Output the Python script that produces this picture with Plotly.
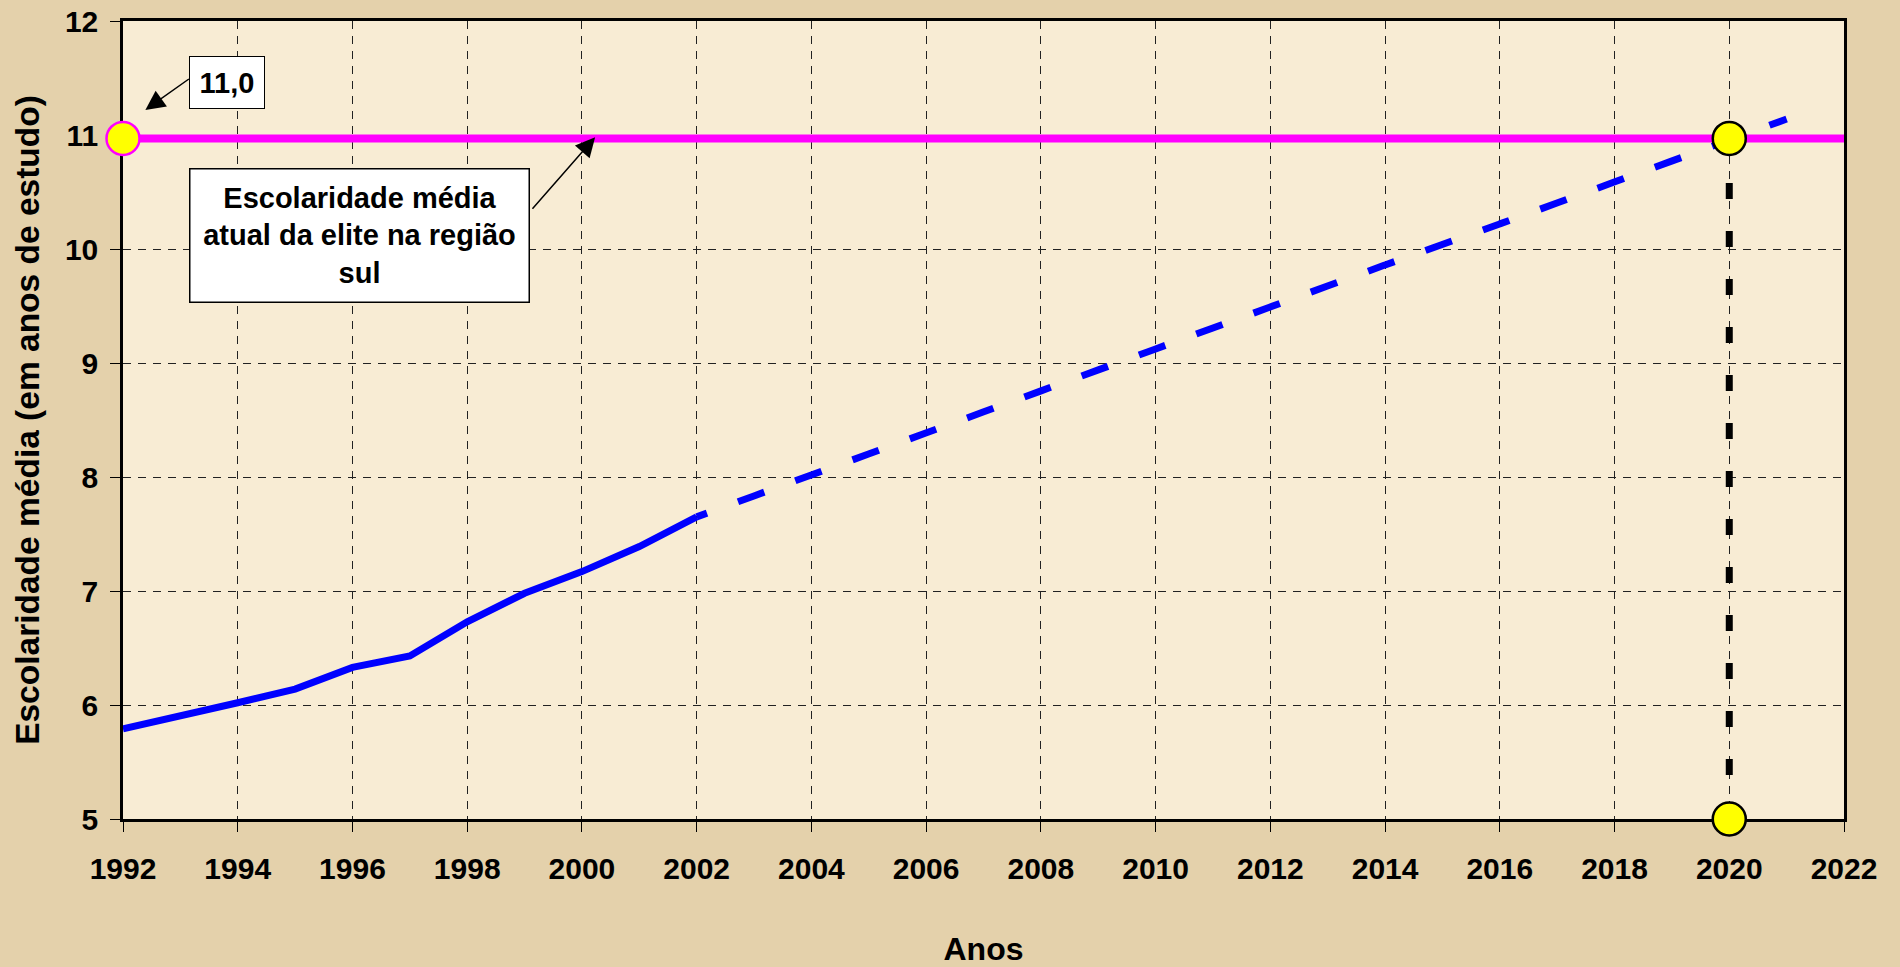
import plotly.graph_objects as go

# ---------------- data ----------------
years_obs = [1992, 1993, 1994, 1995, 1996, 1997, 1998, 1999, 2000, 2001, 2002]
escol_obs = [5.79, 5.90, 6.02, 6.14, 6.33, 6.43, 6.73, 6.98, 7.17, 7.39, 7.65]

years_proj = [2002, 2004, 2006, 2008, 2010, 2012, 2014, 2016, 2018, 2020, 2021]
escol_proj = [7.65, 8.02, 8.39, 8.75, 9.12, 9.49, 9.86, 10.22, 10.59, 10.96, 11.14]

elite_years = [1992, 2022]
elite_values = [10.97, 10.97]

meta_years = [2020, 2020]
meta_values = [5.0, 10.97]

point_years = [1992, 2020, 2020]
point_values = [10.97, 10.97, 5.0]

x_ticks = [1992, 1994, 1996, 1998, 2000, 2002, 2004, 2006, 2008, 2010,
           2012, 2014, 2016, 2018, 2020, 2022]
y_ticks = [5, 6, 7, 8, 9, 10, 11, 12]

elite_label = "11,0"
box_label = "Escolaridade média<br>atual da elite na região<br>sul"
x_title = "Anos"
y_title = "Escolaridade média (em anos de estudo)"

FONT = "Arial, 'Liberation Sans', sans-serif"

fig = go.Figure()

fig.add_trace(go.Scatter(
    x=years_obs, y=escol_obs, mode="lines",
    line=dict(color="#0000FF", width=7), showlegend=False, hoverinfo="skip"))

fig.add_trace(go.Scatter(
    x=years_proj, y=escol_proj, mode="lines",
    line=dict(color="#0000FF", width=7, dash="11px,33px,17px,0px"),
    showlegend=False, hoverinfo="skip"))

fig.add_trace(go.Scatter(
    x=elite_years, y=elite_values, mode="lines",
    line=dict(color="#FF00FF", width=8), showlegend=False, hoverinfo="skip"))

fig.add_trace(go.Scatter(
    x=meta_years, y=meta_values, mode="lines",
    line=dict(color="#000000", width=7, dash="12px,32px,4px,0px"),
    showlegend=False, hoverinfo="skip"))

fig.add_trace(go.Scatter(
    x=point_years, y=point_values, mode="markers", cliponaxis=False,
    marker=dict(size=33, color="#FFFF00",
                line=dict(color=["#FF00FF", "#000000", "#000000"], width=2.5)),
    showlegend=False, hoverinfo="skip"))

# "11,0" label box
fig.add_annotation(
    x=1992, y=11.46, xref="x", yref="y", text=elite_label, showarrow=False,
    xanchor="left", yanchor="middle", xshift=66,
    font=dict(family=FONT, size=29, color="black", weight="bold"),
    bgcolor="white", bordercolor="black", borderwidth=1, borderpad=8,
    width=58, height=35, align="center")
# its arrow
fig.add_annotation(
    x=1992.39, y=11.22, xref="x", yref="y", text="", showarrow=True,
    ax=45, ay=-32, axref="pixel", ayref="pixel",
    arrowhead=2, arrowsize=2.6, arrowwidth=1.5, arrowcolor="black")

# explanatory box
fig.add_annotation(
    x=1996.13, y=10.12, xref="x", yref="y", text=box_label, showarrow=False,
    xanchor="center", yanchor="middle",
    font=dict(family=FONT, size=29, color="black", weight="bold"),
    bgcolor="white", bordercolor="black", borderwidth=1.5, borderpad=10,
    width=318, height=112, align="center")
# its arrow
fig.add_annotation(
    x=2000.23, y=10.98, xref="x", yref="y", text="", showarrow=True,
    ax=-64, ay=73, axref="pixel", ayref="pixel",
    arrowhead=2, arrowsize=2.6, arrowwidth=1.5, arrowcolor="black")

axis_common = dict(
    showline=True, linecolor="black", linewidth=2.5, mirror=True,
    ticks="outside", ticklen=10, tickcolor="black", tickwidth=1,
    showgrid=True, gridcolor="#222222", gridwidth=1, griddash="8px,7px",
    zeroline=False, automargin=False, layer="below traces",
    tickfont=dict(family=FONT, size=30, color="black", weight="bold"),
)

fig.update_xaxes(
    range=[1992, 2022], tickvals=x_ticks, ticktext=[str(t) for t in x_ticks],
    ticklabelstandoff=11,
    title=dict(text=x_title, standoff=60,
               font=dict(family=FONT, size=32, color="black", weight="bold")),
    **axis_common)
fig.update_yaxes(
    range=[5, 12], tickvals=y_ticks, ticktext=[str(t) for t in y_ticks],
    ticklabelstandoff=6,
    title=dict(text=y_title, standoff=16,
               font=dict(family=FONT, size=33.5, color="black", weight="bold")),
    **axis_common)

fig.update_layout(
    width=1900, height=967,
    margin=dict(l=123, r=56, t=21, b=148),
    paper_bgcolor="#E4D1AB",
    plot_bgcolor="#F8ECD4",
    font=dict(family=FONT, color="black"),
    showlegend=False,
)

fig.write_html("out.html", config={"displayModeBar": False},
               post_script="document.body.style.margin='0';document.body.style.overflow='hidden';")
